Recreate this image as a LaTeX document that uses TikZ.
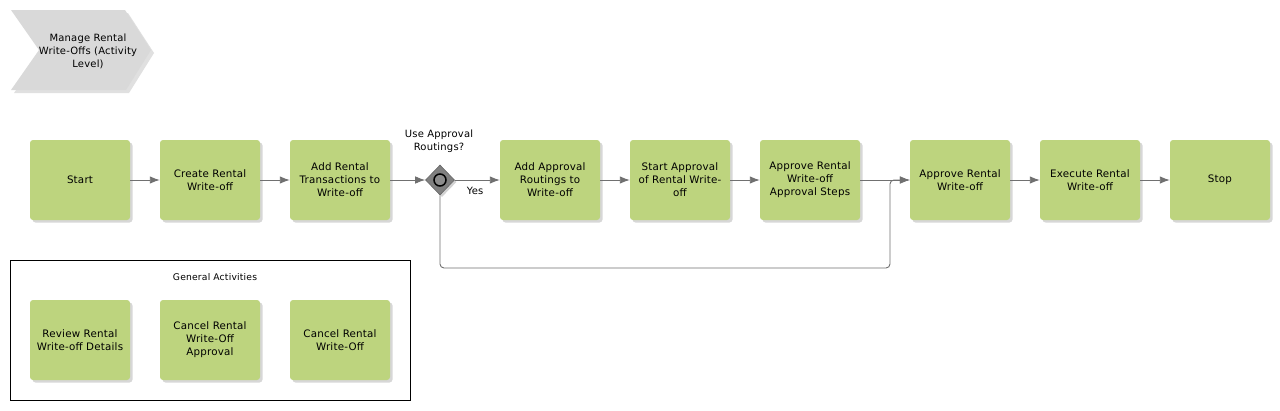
\documentclass[tikz,border=0pt]{standalone}
\usepackage{fontspec}
\setmainfont{DejaVu Sans}[LetterSpace=2]
\usetikzlibrary{shapes.geometric,shadows,arrows.meta}
\definecolor{act}{RGB}{189,212,126}
\definecolor{chev}{RGB}{217,217,217}
\definecolor{conn}{RGB}{112,112,112}
\definecolor{gw}{RGB}{128,128,128}
\begin{document}
\begin{tikzpicture}[x=1pt,y=-1pt,
  actbox/.style={draw=none,fill=act,rounded corners=3pt,minimum width=100pt,minimum height=80pt,
    text width=99pt,align=center,font=\fontsize{10.3}{13}\selectfont,inner sep=0pt,
    drop shadow={shadow xshift=2.5pt,shadow yshift=-2.5pt,fill=black!22,opacity=0.7}},
  conn/.style={draw=conn,line width=0.9pt,-{Latex[length=10pt,width=7.5pt]}},
  lbl/.style={font=\fontsize{10}{13}\selectfont,align=center,inner sep=0pt}]
\useasboundingbox (0,0) rectangle (1280,410);
\fill[white] (0,0) rectangle (1280,410);
% chevron
\fill[black!12] (14,13)--(128,13)--(154,53)--(129,93)--(14,93)--(42,53)--cycle;
\fill[chev] (11,10)--(125,10)--(151,50)--(126,90)--(11,90)--(39,50)--cycle;
\node[lbl] (title) at (88,51) {Manage Rental\\Write-Offs (Activity\\Level)};
% general activities frame
\draw[black,line width=0.9pt] (10,260) rectangle (410,400);
\node[font=\fontsize{9.2}{11}\selectfont] (gtitle) at (215,277) {General Activities};
% main flow
\node[actbox] (start) at (80,180) {Start};
\node[actbox] (create) at (210,180) {Create Rental\\Write-off};
\node[actbox] (addtx) at (340,180) {Add Rental\\Transactions to\\Write-off};
\node[diamond,fill=gw,draw=black!60,line width=0.6pt,minimum width=29pt,minimum height=30pt,inner sep=0pt,
  drop shadow={shadow xshift=2pt,shadow yshift=-2pt,fill=black!25,opacity=0.7}] (dec) at (440,180) {};
\draw[black,line width=1.5pt,fill=black!45] (dec.center) circle (6pt);
\node[lbl] (declbl) at (439,141) {Use Approval\\Routings?};
\node[actbox] (addrt) at (550,180) {Add Approval\\Routings to\\Write-off};
\node[actbox] (startap) at (680,180) {Start Approval\\of Rental Write-\\off};
\node[actbox] (apsteps) at (810,180) {Approve Rental\\Write-off\\Approval Steps};
\node[actbox] (approve) at (960,180) {Approve Rental\\Write-off};
\node[actbox] (exec) at (1090,180) {Execute Rental\\Write-off};
\node[actbox] (stop) at (1220,180) {Stop};
% general activities
\node[actbox] (review) at (80,340) {Review Rental\\Write-off Details};
\node[actbox] (cancelap) at (210,340) {Cancel Rental\\Write-Off\\Approval};
\node[actbox] (cancel) at (340,340) {Cancel Rental\\Write-Off};
% connectors
\draw[conn] (start) -- (create);
\draw[conn] (create) -- (addtx);
\draw[conn] (addtx) -- (dec);
\draw[conn] (dec) -- node[lbl,below=7pt,pos=0.45] (yes) {Yes} (addrt);
\draw[conn] (addrt) -- (startap);
\draw[conn] (startap) -- (apsteps);
\draw[conn] (apsteps) -- (approve);
\coordinate (lp1) at (440,268);
\coordinate (lp2) at (890,268);
\coordinate (lp3) at (890,180);
\draw[conn,rounded corners=4pt] (dec.south) -- (lp1) -- (lp2) -- (lp3) -- (approve.west);
\draw[conn] (approve) -- (exec);
\draw[conn] (exec) -- (stop);
\end{tikzpicture}
\end{document}
